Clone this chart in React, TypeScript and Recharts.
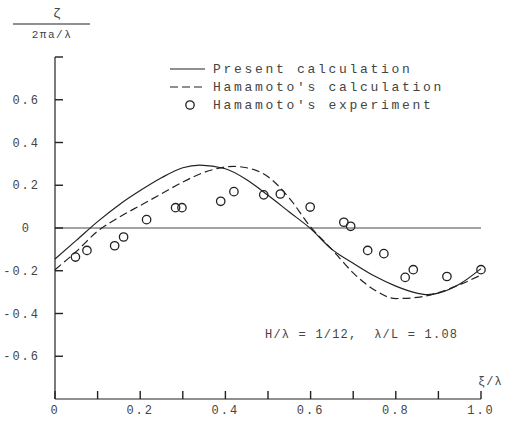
import { ComposedChart, Line, ReferenceLine, Scatter, XAxis, YAxis } from 'recharts';

// wave elevation along the hull, zeta / (2 pi a / lambda) vs xi / lambda

const xTicks = [0, 0.1, 0.2, 0.3, 0.4, 0.5, 0.6, 0.7, 0.8, 0.9, 1.0];
const xTickLabels = ['0', '', '0.2', '', '0.4', '', '0.6', '', '0.8', '', '1.0'];
const yTicks = [-0.6, -0.4, -0.2, 0, 0.2, 0.4, 0.6, 0.8];
const yTickLabels = ['-0.6', '-0.4', '-0.2', '0', '0.2', '0.4', '0.6', ''];

const presentX = [0, 0.05, 0.1, 0.15, 0.2, 0.25, 0.3, 0.34, 0.4, 0.45, 0.5, 0.55, 0.6, 0.65, 0.7, 0.75, 0.8, 0.85, 0.875, 0.9, 0.95, 1.0];
const presentY = [-0.145, -0.058, 0.03, 0.108, 0.175, 0.235, 0.282, 0.294, 0.277, 0.226, 0.153, 0.075, -0.003, -0.1, -0.165, -0.225, -0.272, -0.305, -0.312, -0.305, -0.262, -0.19];

const hamamotoX = [0, 0.05, 0.1, 0.15, 0.2, 0.25, 0.3, 0.35, 0.42, 0.45, 0.5, 0.55, 0.6, 0.65, 0.7, 0.75, 0.8, 0.85, 0.9, 0.95, 1.0];
const hamamotoY = [-0.195, -0.11, -0.015, 0.05, 0.105, 0.16, 0.215, 0.26, 0.288, 0.282, 0.24, 0.14, 0.005, -0.1, -0.21, -0.29, -0.33, -0.325, -0.302, -0.265, -0.22];

const expX = [0.048, 0.075, 0.14, 0.161, 0.215, 0.283, 0.298, 0.389, 0.42, 0.49, 0.529, 0.599, 0.678, 0.694, 0.734, 0.772, 0.822, 0.841, 0.92, 1.0];
const expY = [-0.136, -0.105, -0.083, -0.042, 0.039, 0.095, 0.095, 0.125, 0.17, 0.155, 0.159, 0.098, 0.027, 0.008, -0.105, -0.12, -0.231, -0.195, -0.227, -0.195];

const presentData = presentX.map((x, i) => ({ x, y: presentY[i] }));
const hamamotoData = hamamotoX.map((x, i) => ({ x, y: hamamotoY[i] }));
const expData = expX.map((x, i) => ({ x, y: expY[i] }));

// tick marks sit on the axes, pointing inward
const yMin = -0.8;
const xMin = 0;
const xTickMarks = xTicks.map((x) => ({ x, y: yMin }));
const yTickMarks = yTicks.map((y) => ({ x: xMin, y }));

const font = '"Liberation Mono", "DejaVu Sans Mono", monospace';
const ink = '#222';
const textInk = '#444';

function XTick(props: any) {
  const { x, y, index } = props;
  const label = xTickLabels[index] ?? '';
  if (!label) return <g />;
  return (
    <text x={x} y={y + 15} textAnchor="middle" fontFamily={font} fontSize={12} letterSpacing={2} fill={textInk}>
      {label}
    </text>
  );
}

function YTick(props: any) {
  const { x, y, index } = props;
  const label = yTickLabels[index] ?? '';
  if (!label) return <g />;
  return (
    <text x={label === '0' ? x - 24 : x - 15} y={y + 4} textAnchor="end" fontFamily={font} fontSize={12} letterSpacing={2} fill={textInk}>
      {label}
    </text>
  );
}

const ring = (props: any) => (
  <circle cx={props.cx} cy={props.cy} r={4.2} fill="none" stroke={ink} strokeWidth={1.3} />
);

const upTick = (props: any) => (
  <rect x={props.cx - 0.7} y={props.cy - 8} width={1.4} height={8} fill={ink} />
);

const rightTick = (props: any) => (
  <rect x={props.cx} y={props.cy - 0.7} width={8} height={1.4} fill={ink} />
);

export default function App() {
  return (
    <div style={{ position: 'absolute', left: 0, top: 0, width: 532, height: 429, background: '#fff' }}>
      <ComposedChart width={532} height={429} margin={{ top: 57, right: 51, bottom: 0, left: 10 }}>
        <XAxis
          type="number"
          dataKey="x"
          domain={[0, 1]}
          ticks={xTicks}
          interval={0}
          height={30}
          tickSize={0}
          tickMargin={0}
          tickLine={false}
          axisLine={{ stroke: ink, strokeWidth: 1.2 }}
          tick={XTick}
        />
        <YAxis
          type="number"
          domain={[-0.8, 0.8]}
          ticks={yTicks}
          interval={0}
          width={45}
          tickSize={0}
          tickMargin={0}
          tickLine={false}
          axisLine={{ stroke: ink, strokeWidth: 1.2 }}
          tick={YTick}
        />
        <ReferenceLine y={0} stroke="#333" strokeWidth={0.9} />
        <Scatter data={xTickMarks} dataKey="y" shape={upTick} isAnimationActive={false} />
        <Scatter data={yTickMarks} dataKey="y" shape={rightTick} isAnimationActive={false} />
        <Line data={presentData} dataKey="y" type="monotone" stroke={ink} strokeWidth={1.2} dot={false} isAnimationActive={false} />
        <Line data={hamamotoData} dataKey="y" type="monotone" stroke={ink} strokeWidth={1.2} strokeDasharray="8 4" dot={false} isAnimationActive={false} />
        <Scatter data={expData} dataKey="y" shape={ring} isAnimationActive={false} />
      </ComposedChart>
      <svg width={532} height={429} style={{ position: 'absolute', left: 0, top: 0, pointerEvents: 'none' }}>
        <text x={57} y={17} textAnchor="middle" fontFamily={font} fontSize={13} fill={textInk}>ζ</text>
        <line x1={13} y1={24} x2={90} y2={24} stroke={ink} strokeWidth={1.2} />
        <text x={52} y={38} textAnchor="middle" fontFamily={font} fontSize={11} letterSpacing={1.5} fill={textInk}>2πa/λ</text>

        <line x1={170} y1={69} x2={205} y2={69} stroke={ink} strokeWidth={1.2} />
        <text x={213} y={73} fontFamily={font} fontSize={13} letterSpacing={2.7} fill={textInk}>Present calculation</text>
        <line x1={170} y1={87} x2={205} y2={87} stroke={ink} strokeWidth={1.2} strokeDasharray="8 4" />
        <text x={213} y={91} fontFamily={font} fontSize={13} letterSpacing={2.7} fill={textInk}>Hamamoto's calculation</text>
        <circle cx={190} cy={105} r={4.2} fill="none" stroke={ink} strokeWidth={1.3} />
        <text x={213} y={109} fontFamily={font} fontSize={13} letterSpacing={2.7} fill={textInk}>Hamamoto's experiment</text>

        <text x={265} y={338} fontFamily={font} fontSize={12} letterSpacing={1.2} fill={textInk} style={{ whiteSpace: 'pre' }}>H/λ = 1/12,  λ/L = 1.08</text>
        <text x={478} y={385} fontFamily={font} fontSize={12} letterSpacing={1} fill={textInk}>ξ/λ</text>
      </svg>
    </div>
  );
}
